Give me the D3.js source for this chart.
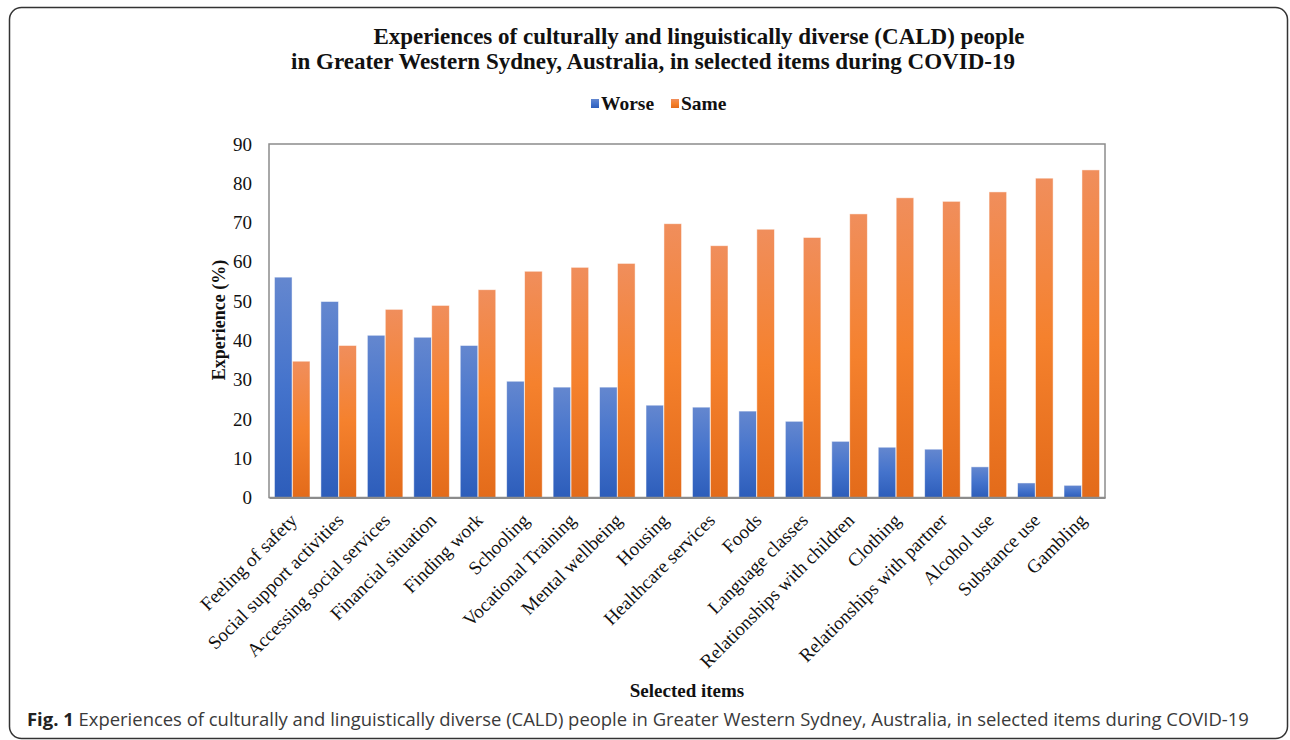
<!DOCTYPE html>
<html>
<head>
<meta charset="utf-8">
<script src="https://cdn.jsdelivr.net/npm/d3@7"></script>
<style>
  body { margin: 0; background: #fff; }
  svg { display: block; }
</style>
</head>
<body>
<svg id="chart" width="1290" height="740"></svg>
<script>
var categories = [
  'Feeling of safety', 'Social support activities', 'Accessing social services',
  'Financial situation', 'Finding work', 'Schooling', 'Vocational Training',
  'Mental wellbeing', 'Housing', 'Healthcare services', 'Foods', 'Language classes',
  'Relationships with children', 'Clothing', 'Relationships with partner',
  'Alcohol use', 'Substance use', 'Gambling'
];
var seriesNames = ['Worse', 'Same'];
var worse = [56.1, 49.9, 41.3, 40.8, 38.7, 29.6, 28.1, 28.1, 23.5, 23.0, 22.0, 19.4, 14.3, 12.8, 12.3, 7.8, 3.7, 3.1];
var same = [34.7, 38.7, 47.9, 48.9, 52.9, 57.6, 58.6, 59.6, 69.7, 64.1, 68.3, 66.2, 72.2, 76.3, 75.4, 77.8, 81.3, 83.4];
var yTicks = [0, 10, 20, 30, 40, 50, 60, 70, 80, 90];

var titleLines = [
  'Experiences of culturally and linguistically diverse (CALD) people',
  'in Greater Western Sydney, Australia, in selected items during COVID-19'
];
var captionText = ' Experiences of culturally and linguistically diverse (CALD) people in Greater Western Sydney, Australia, in selected items during COVID-19';

var serif = '"Liberation Serif", "Times New Roman", serif';
var plot = { left: 269, right: 1105, top: 144, bottom: 497.5 };

var svg = d3.select('#chart');
var defs = svg.append('defs');

function addGradient(id, stops) {
  var g = defs.append('linearGradient')
    .attr('id', id)
    .attr('x1', 0).attr('y1', 0)
    .attr('x2', 0).attr('y2', 1);
  stops.forEach(function (s) {
    g.append('stop').attr('offset', s[0]).attr('stop-color', s[1]);
  });
}
addGradient('grad-worse', [[0, '#6487cf'], [0.5, '#4473cc'], [1, '#2d5dba']]);
addGradient('grad-same', [[0, '#f08e5c'], [0.5, '#f5812d'], [1, '#e36b1a']]);
var fills = ['url(#grad-worse)', 'url(#grad-same)'];

// outer frame
svg.append('rect')
  .attr('x', 9.5).attr('y', 7.5)
  .attr('width', 1278).attr('height', 731)
  .attr('rx', 12)
  .attr('fill', 'none')
  .attr('stroke', '#333')
  .attr('stroke-width', 1.5);

// title
svg.selectAll('.title')
  .data(titleLines)
  .enter()
  .append('text')
  .attr('class', 'title')
  .attr('x', function (d, i) { return i === 0 ? 699 : 653; })
  .attr('y', function (d, i) { return 44 + i * 25; })
  .attr('text-anchor', 'middle')
  .attr('font-family', serif)
  .attr('font-weight', 'bold')
  .attr('font-size', 23)
  .attr('fill', '#111')
  .text(function (d) { return d; });

// legend
var legend = svg.append('g').attr('transform', 'translate(591,99)');
var legendX = [0, 80];
seriesNames.forEach(function (name, i) {
  var item = legend.append('g').attr('transform', 'translate(' + legendX[i] + ',0)');
  item.append('rect').attr('width', 8).attr('height', 9).attr('fill', fills[i]);
  item.append('text')
    .attr('x', 10).attr('y', 11)
    .attr('font-family', serif)
    .attr('font-weight', 'bold')
    .attr('font-size', 19.5)
    .attr('fill', '#111')
    .text(name);
});

// scales
var x0 = d3.scaleBand()
  .domain(categories)
  .range([plot.left, plot.right])
  .paddingInner(0.22)
  .paddingOuter(0.11);

var x1 = d3.scaleBand()
  .domain(seriesNames)
  .range([0, x0.bandwidth()])
  .padding(0.02);

var y = d3.scaleLinear()
  .domain([0, 90])
  .range([plot.bottom, plot.top]);

// bars
var rows = categories.map(function (c, i) {
  return { category: c, values: [worse[i], same[i]] };
});

var groups = svg.selectAll('.cat')
  .data(rows)
  .enter()
  .append('g')
  .attr('class', 'cat')
  .attr('transform', function (d) { return 'translate(' + x0(d.category) + ',0)'; });

groups.selectAll('rect')
  .data(function (d) {
    return d.values.map(function (v, i) { return { series: seriesNames[i], value: v, idx: i }; });
  })
  .enter()
  .append('rect')
  .attr('x', function (d) { return x1(d.series); })
  .attr('y', function (d) { return y(d.value); })
  .attr('width', x1.bandwidth())
  .attr('height', function (d) { return y(0) - y(d.value); })
  .attr('fill', function (d) { return fills[d.idx]; })
  .attr('stroke', '#fff')
  .attr('stroke-opacity', 0.6)
  .attr('stroke-width', 0.8);

// plot border
svg.append('rect')
  .attr('x', plot.left).attr('y', plot.top)
  .attr('width', plot.right - plot.left)
  .attr('height', plot.bottom - plot.top)
  .attr('fill', 'none')
  .attr('stroke', '#8c8c8c')
  .attr('stroke-width', 1.5);

// y axis
var yAxis = svg.append('g')
  .attr('transform', 'translate(' + plot.left + ',0)')
  .call(d3.axisLeft(y).tickValues(yTicks).tickSize(0).tickPadding(17));
yAxis.select('.domain').remove();
yAxis.selectAll('text')
  .attr('font-family', serif)
  .attr('font-size', 19)
  .attr('fill', '#111');

// x axis
var xAxis = svg.append('g')
  .attr('transform', 'translate(0,' + plot.bottom + ')')
  .call(d3.axisBottom(x0).tickSize(0).tickPadding(0));
xAxis.select('.domain')
  .attr('stroke', '#8c8c8c')
  .attr('stroke-width', 2);
xAxis.selectAll('text')
  .attr('font-family', serif)
  .attr('font-size', 19)
  .attr('fill', '#111')
  .attr('text-anchor', 'end')
  .attr('dy', null)
  .attr('y', 0)
  .attr('transform', 'translate(6,24) rotate(-45)');

// axis titles
svg.append('text')
  .attr('transform', 'translate(225,320) rotate(-90)')
  .attr('text-anchor', 'middle')
  .attr('font-family', serif)
  .attr('font-weight', 'bold')
  .attr('font-size', 18)
  .attr('fill', '#111')
  .text('Experience (%)');

svg.append('text')
  .attr('x', 687).attr('y', 697)
  .attr('text-anchor', 'middle')
  .attr('font-family', serif)
  .attr('font-weight', 'bold')
  .attr('font-size', 19)
  .attr('fill', '#111')
  .text('Selected items');

// caption
var caption = svg.append('text')
  .attr('x', 27).attr('y', 726)
  .attr('font-family', '"Open Sans", "Noto Sans", sans-serif')
  .attr('font-size', 19)
  .attr('fill', '#3a3a3a');
caption.append('tspan').attr('font-weight', 'bold').attr('fill', '#222').text('Fig. 1');
caption.append('tspan').text(captionText);
var capWidth = caption.node().getComputedTextLength();
caption.attr('font-size', 19 * 1223 / capWidth);
</script>
</body>
</html>
